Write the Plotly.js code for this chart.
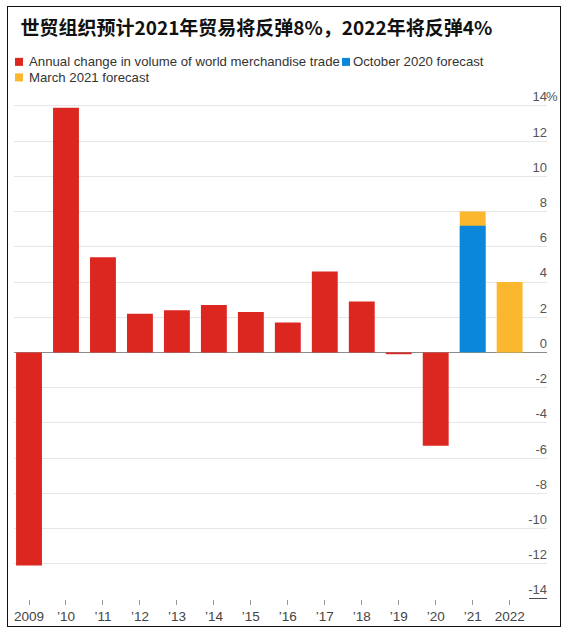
<!DOCTYPE html>
<html>
<head>
<meta charset="utf-8">
<script src="https://cdn.plot.ly/plotly-3.0.1.min.js"></script>
<style>
  html, body { margin: 0; padding: 0; background: #fff; }
  #wrap { position: relative; width: 567px; height: 634px; }
  #chart { position: absolute; left: 0; top: 0; width: 567px; height: 634px; }
  #frame { position: absolute; left: 7px; top: 6px; width: 554px; height: 621px;
           border: 1.5px solid #111; box-sizing: border-box; pointer-events: none; }
</style>
</head>
<body>
<div id="wrap"><div id="chart"></div><div id="frame"></div></div>
<script>
// ---- data ----
const titleText = "世贸组织预计2021年贸易将反弹8%，2022年将反弹4%";
const categories = ["2009", "’10", "’11", "’12", "’13", "’14", "’15", "’16", "’17", "’18", "’19", "’20", "’21", "2022"];
const annualChange   = [-12.1, 13.9, 5.4, 2.2, 2.4, 2.7, 2.3, 1.7, 4.6, 2.9, -0.1, -5.3, null, null];
const october2020Fc  = [null, null, null, null, null, null, null, null, null, null, null, null, 7.2, null];
const march2021Fc    = [null, null, null, null, null, null, null, null, null, null, null, null, 8.0, 4.0];
const seriesNames = ["Annual change in volume of world merchandise trade", "October 2020 forecast", "March 2021 forecast"];
const yTickVals  = [-14, -12, -10, -8, -6, -4, -2, 0, 2, 4, 6, 8, 10, 12, 14];
const yTickText  = ["-14", "-12", "-10", "-8", "-6", "-4", "-2", "0", "2", "4", "6", "8", "10", "12", "14"];

const RED = "#dc2620", BLUE = "#0a86da", YELLOW = "#fbb72d";
const FONT = "'Liberation Sans', Arial, Helvetica, sans-serif";

// plot area geometry (pixels)
const W = 567, H = 634;
const M = { l: 14, r: 20, t: 83.1, b: 35.2 };
const plotW = W - M.l - M.r, plotH = H - M.t - M.b;
const px2x = p => (p - M.l) / plotW;
const px2y = p => (H - M.b - p) / plotH;

const traces = [
  { type: "bar", name: seriesNames[0], x: categories, y: annualChange, marker: { color: RED }, showlegend: false },
  { type: "bar", name: seriesNames[2], x: categories, y: march2021Fc, marker: { color: YELLOW }, showlegend: false },
  { type: "bar", name: seriesNames[1], x: categories, y: october2020Fc, marker: { color: BLUE }, showlegend: false }
];

// custom legend (squares + labels)
const legendItems = [
  { name: seriesNames[0], color: RED,    sx: 15,  tx: 26.5, row: 62 },
  { name: seriesNames[1], color: BLUE,   sx: 342, tx: 350.5, row: 62 },
  { name: seriesNames[2], color: YELLOW, sx: 15,  tx: 26.5, row: 77.5 }
];
const shapes = legendItems.map(it => ({
  type: "rect", xref: "paper", yref: "paper",
  x0: px2x(it.sx), x1: px2x(it.sx + 8), y0: px2y(it.row + 4), y1: px2y(it.row - 4),
  fillcolor: it.color, line: { width: 0 }
}));
// short dark marker at the bottom of the value axis
shapes.push({ type: "line", xref: "paper", yref: "y", x0: px2x(529), x1: 1, y0: -14, y1: -14,
  line: { color: "#111", width: 1.5 } });

const annotations = legendItems.map(it => ({
  xref: "paper", yref: "paper", x: px2x(it.tx), y: px2y(it.row),
  xanchor: "left", yanchor: "middle", showarrow: false, text: it.name,
  font: { family: FONT, size: 13.2, color: "#333" }
}));
annotations.push({ xref: "paper", yref: "y", x: 1, y: 14, xanchor: "left", yanchor: "bottom",
  xshift: -3, yshift: 0, showarrow: false, text: "%", font: { family: FONT, size: 13, color: "#555" } });

const layout = {
  width: W, height: H,
  margin: M,
  paper_bgcolor: "#fff", plot_bgcolor: "#fff",
  font: { family: FONT, color: "#444" },
  title: {
    text: "<b>" + titleText + "</b>",
    xref: "container", yref: "container", x: 20.5 / W, xanchor: "left", y: 1 - 28.5 / H, yanchor: "middle",
    font: { family: "'Noto Sans CJK SC', sans-serif", size: 19, color: "#111" }
  },
  barmode: "overlay",
  bargap: 0.3,
  showlegend: false,
  xaxis: {
    type: "category", range: [-0.406, 14.01],
    showgrid: false, zeroline: false, showline: false,
    ticks: "outside", ticklen: 5, tickwidth: 1, tickcolor: "#999",
    tickfont: { family: FONT, size: 13.5, color: "#444" }
  },
  yaxis: {
    side: "right", range: [-14, 15.3],
    tickmode: "array", tickvals: yTickVals, ticktext: yTickText,
    ticklabelposition: "inside top", ticklabelstandoff: -3,
    showgrid: true, gridcolor: "#e6e6e6", gridwidth: 1,
    zeroline: true, zerolinecolor: "#8c8c8c", zerolinewidth: 1,
    ticks: "", showline: false,
    tickfont: { family: FONT, size: 13, color: "#555" }
  },
  shapes: shapes,
  annotations: annotations
};

Plotly.newPlot("chart", traces, layout, { staticPlot: true, displayModeBar: false });
</script>
</body>
</html>
